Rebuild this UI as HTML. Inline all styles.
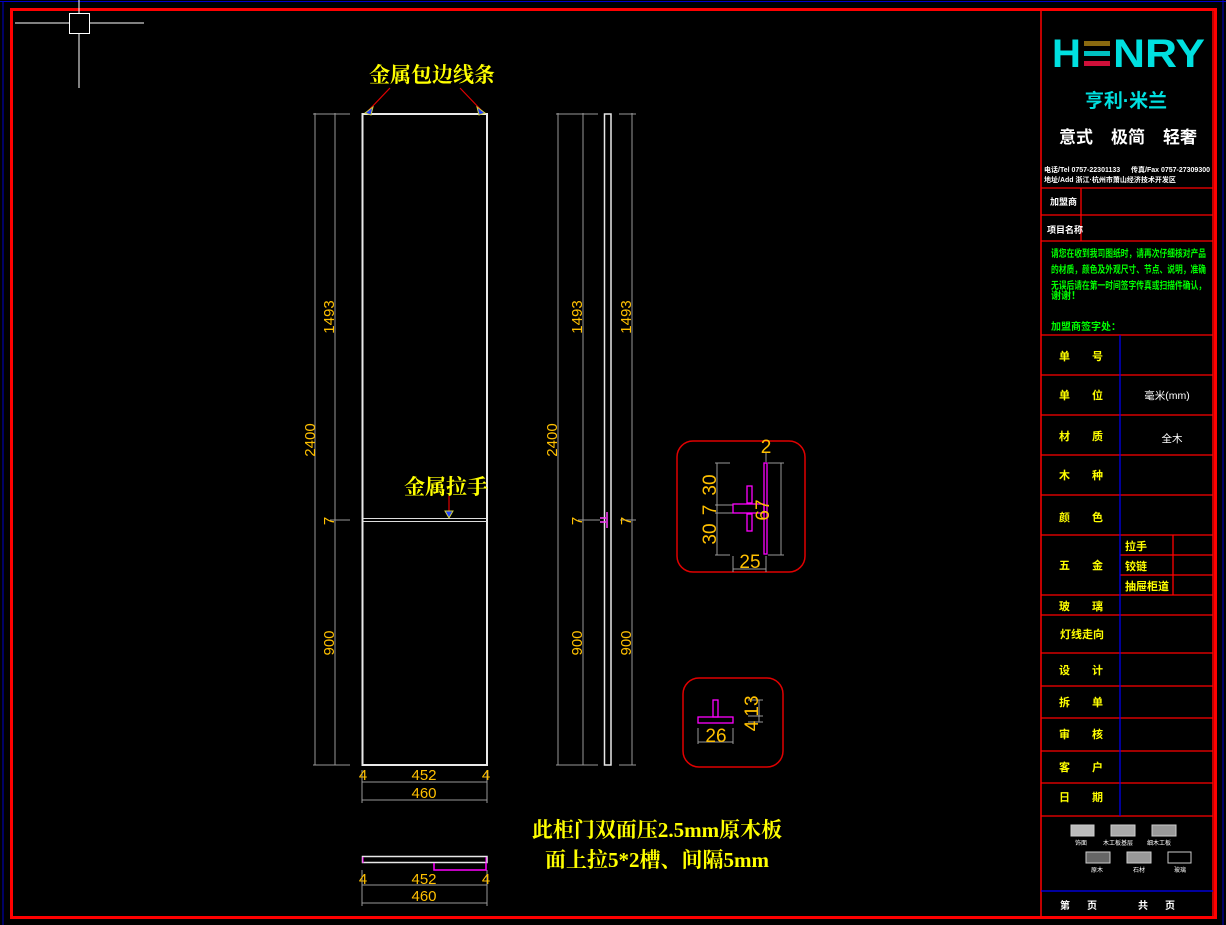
<!DOCTYPE html>
<html><head><meta charset="utf-8"><style>
html,body{margin:0;padding:0;background:#000;}
svg{display:block;}
text{font-family:"Liberation Sans","Noto Sans CJK SC",sans-serif;}
.ser{font-family:"Liberation Serif","Noto Serif CJK SC",serif;}
</style></head><body>
<svg width="1226" height="925" viewBox="0 0 1226 925" xmlns="http://www.w3.org/2000/svg">
<rect width="1226" height="925" fill="#000"/>
<line x1="3" y1="1" x2="3" y2="925" stroke="#0000c8" stroke-width="1"/>
<line x1="0" y1="1.5" x2="1226" y2="1.5" stroke="#0000c8" stroke-width="1"/>
<line x1="1223" y1="0" x2="1223" y2="925" stroke="#0000c8" stroke-width="1"/>
<rect x="11.5" y="9.5" width="1204" height="908" fill="none" stroke="#ff0000" stroke-width="3"/>
<line x1="1041" y1="10" x2="1041" y2="918" stroke="#ff0000" stroke-width="1.5"/>
<line x1="1213" y1="10" x2="1213" y2="918" stroke="#ff0000" stroke-width="1.5"/>
<line x1="79" y1="0" x2="79" y2="88" stroke="#fff"/>
<line x1="15" y1="23" x2="144" y2="23" stroke="#fff"/>
<rect x="69.5" y="13.5" width="20" height="20" fill="#000" stroke="#fff"/>

<g stroke="#999" stroke-width="1">
<line x1="315" y1="113" x2="315" y2="765"/>
<line x1="335" y1="113" x2="335" y2="765"/>
<line x1="313" y1="114" x2="350" y2="114"/>
<line x1="313" y1="765" x2="350" y2="765"/>
<line x1="330" y1="520" x2="350" y2="520"/>
<line x1="558" y1="113" x2="558" y2="765"/>
<line x1="583" y1="113" x2="583" y2="765"/>
<line x1="632" y1="113" x2="632" y2="765"/>
<line x1="556" y1="114" x2="598" y2="114"/>
<line x1="556" y1="765" x2="598" y2="765"/>
<line x1="619" y1="114" x2="636" y2="114"/>
<line x1="619" y1="765" x2="636" y2="765"/>
<line x1="578" y1="520" x2="600" y2="520"/>
<line x1="620" y1="520" x2="636" y2="520"/>
<line x1="362" y1="782" x2="487" y2="782"/>
<line x1="362" y1="800" x2="487" y2="800"/>
<line x1="362" y1="770" x2="362" y2="803"/>
<line x1="487" y1="770" x2="487" y2="803"/>
<line x1="362" y1="885" x2="487" y2="885"/>
<line x1="362" y1="903" x2="487" y2="903"/>
<line x1="362" y1="870" x2="362" y2="906"/>
<line x1="487" y1="870" x2="487" y2="906"/>
</g>
<rect x="362.5" y="114" width="124.5" height="651" fill="none" stroke="#e8e8e8" stroke-width="2"/>
<line x1="363" y1="518.5" x2="487" y2="518.5" stroke="#ddd" stroke-width="1"/>
<line x1="363" y1="521.5" x2="487" y2="521.5" stroke="#ddd" stroke-width="1"/>
<rect x="604.5" y="114" width="6.5" height="651" fill="none" stroke="#e8e8e8" stroke-width="1.5"/>
<path d="M600 518 h6 M600 522 h6 M607 512 v16" stroke="#ff40ff" stroke-width="1.5" fill="none"/>
<rect x="362.5" y="856.5" width="124.5" height="6" fill="none" stroke="#e8e8e8" stroke-width="1.5"/>
<path d="M434 863 v7 h52 v-7" stroke="#ff00ff" stroke-width="1.5" fill="none"/>
<path d="M363 857 v6 M486 857 v6" stroke="#ff00ff" stroke-width="1"/>

<g fill="#ffff00" font-size="21" font-weight="bold" class="ser">
<text x="432" y="82" text-anchor="middle" class="ser">金属包边线条</text>
<text x="446" y="494" text-anchor="middle" class="ser">金属拉手</text>
<text x="657" y="837" text-anchor="middle" class="ser">此柜门双面压2.5mm原木板</text>
<text x="657" y="867" text-anchor="middle" class="ser">面上拉5*2槽、间隔5mm</text>
</g>
<g stroke="#e00000" stroke-width="1.2">
<line x1="390" y1="88" x2="368" y2="111"/>
<line x1="460" y1="88" x2="482" y2="111"/>
<line x1="449" y1="496" x2="449" y2="515"/>
</g>
<g fill="#2040ff" stroke="#d0d040" stroke-width="1">
<path d="M365 113 l8 -6 l-2 8z"/><path d="M485 113 l-8 -6 l2 8z"/><path d="M449 518 l-4 -7 h8z"/>
</g>

<g fill="#ffc000" font-size="15">
<text transform="translate(315,440) rotate(-90)" text-anchor="middle">2400</text>
<text transform="translate(334,317) rotate(-90)" text-anchor="middle">1493</text>
<text transform="translate(334,643) rotate(-90)" text-anchor="middle">900</text>
<text transform="translate(334,521) rotate(-90)" text-anchor="middle">7</text>
<text transform="translate(557,440) rotate(-90)" text-anchor="middle">2400</text>
<text transform="translate(582,317) rotate(-90)" text-anchor="middle">1493</text>
<text transform="translate(582,643) rotate(-90)" text-anchor="middle">900</text>
<text transform="translate(582,521) rotate(-90)" text-anchor="middle">7</text>
<text transform="translate(631,317) rotate(-90)" text-anchor="middle">1493</text>
<text transform="translate(631,643) rotate(-90)" text-anchor="middle">900</text>
<text transform="translate(631,521) rotate(-90)" text-anchor="middle">7</text>
<text x="424" y="780" text-anchor="middle">452</text>
<text x="424" y="798" text-anchor="middle">460</text>
<text x="363" y="780" text-anchor="middle">4</text>
<text x="486" y="780" text-anchor="middle">4</text>
<text x="424" y="884" text-anchor="middle">452</text>
<text x="424" y="901" text-anchor="middle">460</text>
<text x="363" y="884" text-anchor="middle">4</text>
<text x="486" y="884" text-anchor="middle">4</text>
</g>

<rect x="677" y="441" width="128" height="131" rx="16" fill="none" stroke="#e00000" stroke-width="1.5"/>
<g stroke="#999" stroke-width="1" fill="none">
<line x1="717" y1="463" x2="717" y2="555"/><line x1="715" y1="463" x2="730" y2="463"/><line x1="715" y1="555" x2="730" y2="555"/>
<line x1="715" y1="505" x2="733" y2="505"/><line x1="715" y1="513" x2="733" y2="513"/>
<line x1="781" y1="463" x2="781" y2="555"/><line x1="768" y1="463" x2="784" y2="463"/><line x1="768" y1="555" x2="784" y2="555"/>
<line x1="733" y1="556" x2="733" y2="572"/><line x1="766" y1="556" x2="766" y2="572"/><line x1="733" y1="569" x2="766" y2="569"/>
<line x1="766" y1="452" x2="766" y2="462"/>
</g>
<g stroke="#ff00ff" stroke-width="1.3" fill="none">
<rect x="764" y="463" width="3" height="91"/>
<rect x="733" y="504" width="31" height="9"/>
<rect x="747" y="486" width="5" height="17"/>
<rect x="747" y="514" width="5" height="17"/>
</g>
<g fill="#ffc000" font-size="19">
<text transform="translate(716,485) rotate(-90)" text-anchor="middle">30</text>
<text transform="translate(716,510) rotate(-90)" text-anchor="middle">7</text>
<text transform="translate(716,534) rotate(-90)" text-anchor="middle">30</text>
<text transform="translate(769,510) rotate(-90)" text-anchor="middle">67</text>
<text x="750" y="568" text-anchor="middle">25</text>
<text x="766" y="453" text-anchor="middle">2</text>
</g>
<rect x="683" y="678" width="100" height="89" rx="16" fill="none" stroke="#e00000" stroke-width="1.5"/>
<g stroke="#999" stroke-width="1">
<line x1="698" y1="728" x2="698" y2="744"/><line x1="733" y1="728" x2="733" y2="744"/><line x1="698" y1="742" x2="733" y2="742"/>
<line x1="759" y1="700" x2="759" y2="722"/><line x1="748" y1="700" x2="763" y2="700"/><line x1="748" y1="716" x2="763" y2="716"/><line x1="748" y1="722" x2="763" y2="722"/>
</g>
<g stroke="#ff00ff" stroke-width="1.3" fill="none">
<rect x="698" y="717" width="35" height="6"/>
<rect x="713" y="700" width="5" height="17"/>
</g>
<g fill="#ffc000" font-size="19">
<text x="716" y="742" text-anchor="middle">26</text>
<text transform="translate(758,706) rotate(-90)" text-anchor="middle">13</text>
<text transform="translate(758,726) rotate(-90)" text-anchor="middle">4</text>
</g>

<g font-weight="bold">
<text x="1052" y="67" font-size="40" fill="#00e0e0">H</text>
<rect x="1084" y="41" width="26" height="5" fill="#8a6a10"/>
<rect x="1084" y="51" width="26" height="5" fill="#00c0c0"/>
<rect x="1084" y="61" width="26" height="5" fill="#d0103a"/>
<text x="1113" y="67" font-size="40" fill="#00e0e0" textLength="92" lengthAdjust="spacingAndGlyphs">NRY</text>
<text x="1126" y="107" font-size="19" fill="#00e0e0" text-anchor="middle">亨利·米兰</text>
<text x="1076" y="143" font-size="17" fill="#fff" text-anchor="middle">意式</text>
<text x="1128" y="143" font-size="17" fill="#fff" text-anchor="middle">极简</text>
<text x="1180" y="143" font-size="17" fill="#fff" text-anchor="middle">轻奢</text>
</g>
<g fill="#fff" font-size="7" font-weight="bold">
<text x="1044" y="172">电话/Tel 0757-22301133</text><text x="1131" y="172">传真/Fax 0757-27309300</text>
<text x="1044" y="182">地址/Add 浙江·杭州市萧山经济技术开发区</text>
</g>
<g stroke="#ff0000" stroke-width="1.3">
<line x1="1041" y1="188" x2="1213" y2="188"/>
<line x1="1041" y1="215" x2="1213" y2="215"/>
<line x1="1041" y1="241" x2="1213" y2="241"/>
<line x1="1081" y1="188" x2="1081" y2="241"/>
<line x1="1041" y1="335" x2="1213" y2="335"/>
<line x1="1041" y1="375" x2="1213" y2="375"/>
<line x1="1041" y1="415" x2="1213" y2="415"/>
<line x1="1041" y1="455" x2="1213" y2="455"/>
<line x1="1041" y1="495" x2="1213" y2="495"/>
<line x1="1041" y1="535" x2="1213" y2="535"/>
<line x1="1120" y1="555" x2="1213" y2="555"/>
<line x1="1120" y1="575" x2="1213" y2="575"/>
<line x1="1173" y1="535" x2="1173" y2="595"/>
<line x1="1041" y1="595" x2="1213" y2="595"/>
<line x1="1041" y1="615" x2="1213" y2="615"/>
<line x1="1041" y1="653" x2="1213" y2="653"/>
<line x1="1041" y1="686" x2="1213" y2="686"/>
<line x1="1041" y1="718" x2="1213" y2="718"/>
<line x1="1041" y1="751" x2="1213" y2="751"/>
<line x1="1041" y1="783" x2="1213" y2="783"/>
<line x1="1041" y1="816" x2="1213" y2="816"/>
</g>
<line x1="1120" y1="335" x2="1120" y2="816" stroke="#0000ff" stroke-width="1.2"/>
<line x1="1041" y1="891" x2="1213" y2="891" stroke="#0000ff" stroke-width="1.2"/>
<g fill="#fff" font-size="9" font-weight="bold">
<text x="1050" y="205">加盟商</text>
<text x="1047" y="233">项目名称</text>
</g>
<g fill="#00ff00" font-size="10" font-weight="bold">
<text x="1051" y="257" textLength="155" lengthAdjust="spacingAndGlyphs">请您在收到我司图纸时，请再次仔细核对产品</text>
<text x="1051" y="273" textLength="155" lengthAdjust="spacingAndGlyphs">的材质，颜色及外观尺寸、节点、说明，准确</text>
<text x="1051" y="289" textLength="155" lengthAdjust="spacingAndGlyphs">无误后请在第一时间签字传真或扫描件确认，</text>
<text x="1051" y="299">谢谢！</text>
<text x="1051" y="330">加盟商签字处：</text>
</g>
<g fill="#ffff00" font-size="11" font-weight="bold">
<text x="1059" y="360">单</text><text x="1092" y="360">号</text>
<text x="1059" y="399">单</text><text x="1092" y="399">位</text>
<text x="1059" y="440">材</text><text x="1092" y="440">质</text>
<text x="1059" y="479">木</text><text x="1092" y="479">种</text>
<text x="1059" y="521">颜</text><text x="1092" y="521">色</text>
<text x="1059" y="569">五</text><text x="1092" y="569">金</text>
<text x="1125" y="550">拉手</text>
<text x="1125" y="570">铰链</text>
<text x="1125" y="590">抽屉柜道</text>
<text x="1059" y="610">玻</text><text x="1092" y="610">璃</text>
<text x="1060" y="638">灯线走向</text>
<text x="1059" y="674">设</text><text x="1092" y="674">计</text>
<text x="1059" y="706">拆</text><text x="1092" y="706">单</text>
<text x="1059" y="738">审</text><text x="1092" y="738">核</text>
<text x="1059" y="771">客</text><text x="1092" y="771">户</text>
<text x="1059" y="801">日</text><text x="1092" y="801">期</text>
</g>
<g fill="#fff" font-size="10.5">
<text x="1167" y="399" text-anchor="middle">毫米(mm)</text>
<text x="1172" y="442" text-anchor="middle">全木</text>
</g>
<g stroke="#ccc" stroke-width="1">
<rect x="1071" y="825" width="23" height="11" fill="#bbb"/>
<rect x="1111" y="825" width="24" height="11" fill="#aaa"/>
<rect x="1152" y="825" width="24" height="11" fill="#999"/>
<rect x="1086" y="852" width="24" height="11" fill="#666"/>
<rect x="1127" y="852" width="24" height="11" fill="#999"/>
<rect x="1168" y="852" width="23" height="11" fill="#000"/>
</g>
<g fill="#fff" font-size="6" text-anchor="middle">
<text x="1081" y="845">饰面</text><text x="1118" y="845">木工板基层</text><text x="1159" y="845">细木工板</text>
<text x="1097" y="872">原木</text><text x="1139" y="872">石材</text><text x="1180" y="872">玻璃</text>
</g>
<g fill="#fff" font-size="10" font-weight="bold">
<text x="1060" y="909">第</text><text x="1087" y="909">页</text>
<text x="1138" y="909">共</text><text x="1165" y="909">页</text>
</g>
</svg>
</body></html>
